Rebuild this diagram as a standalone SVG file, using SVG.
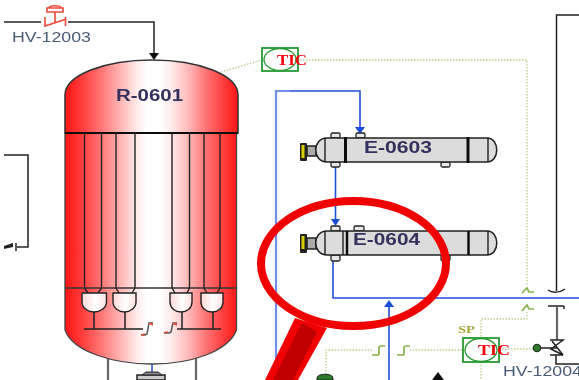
<svg xmlns="http://www.w3.org/2000/svg" width="579" height="380" viewBox="0 0 579 380">
<style>
text{font-family:"Liberation Sans",Arial,sans-serif}
.lbl{font-size:16px;font-weight:bold;fill:#33305c}
.tag{font-size:14px;fill:#4a5c78}
.tic{font-family:"Liberation Serif",serif;font-size:14.500px;font-weight:bold;fill:#f5000a}
.k{fill:none;stroke:#222;stroke-width:1.500}
.gy{fill:none;stroke:#666;stroke-width:2.200}
.b{fill:none;stroke:#1f4fd8;stroke-width:1.600}
.pb{fill:none;stroke:#6f8fe8;stroke-width:2.200}
.g{fill:none;stroke:#b9d08c;stroke-width:1.300;stroke-dasharray:1.500 1.500}
.gb{fill:none;stroke:#86b44a;stroke-width:1.700}
.r{fill:none;stroke:#ee4a38;stroke-width:1.600}
.sig{fill:none;stroke:#555;stroke-width:1.500}
.tube{fill:none;stroke:#222;stroke-width:1.400}
.cup{fill:url(#c);stroke:#222;stroke-width:1.400}
.bx{fill:#fff;stroke:#259a30;stroke-width:1.800}
.sh{fill:#dcdcdc;stroke:#222;stroke-width:1.500}
.noz{fill:#e8e8e8;stroke:#222;stroke-width:1.300}
</style>
<defs>
<linearGradient id="v" gradientUnits="userSpaceOnUse" x1="65" y1="0" x2="238" y2="0"><stop offset="0" stop-color="#ff1414"/><stop offset=".1" stop-color="#ff3c3c"/><stop offset=".2" stop-color="#ff7070"/><stop offset=".32" stop-color="#ffb4b4"/><stop offset=".41" stop-color="#ffe8e8"/><stop offset=".47" stop-color="#fff"/><stop offset=".55" stop-color="#fff"/><stop offset=".62" stop-color="#ffe8e8"/><stop offset=".72" stop-color="#ffb4b4"/><stop offset=".82" stop-color="#ff7070"/><stop offset=".92" stop-color="#ff3c3c"/><stop offset="1" stop-color="#ff1414"/></linearGradient>
<linearGradient id="c"><stop offset="0" stop-color="#ffd8d8"/><stop offset=".55" stop-color="#fff"/><stop offset="1" stop-color="#ffe0e0"/></linearGradient>
<filter id="soft" x="0" y="0" width="100%" height="100%"><feGaussianBlur stdDeviation="0.35"/></filter>
</defs>
<g filter="url(#soft)">
<g id="connectors">
<path class="k" d="M4 22H41M68 22H154V54"/>
<path d="M149 53h10l-5 7z" fill="#111"/>
<path class="k" d="M4 155H28V247H17M16 243V251"/>
<path d="M4 246L13 243V247L4 249Z" fill="#222"/>
<path class="g" d="M221 72L262 60M300 60H527V285M527 312V319H481V338M481 362V380"/>
<path class="pb" d="M276 380V91H290"/>
<path class="b" d="M290 91H360V127"/>
<path d="M355 127h10l-5 7z" fill="#1f4fd8"/>
<path class="b" d="M335.500 167V220"/>
<path d="M331 219h9l-4.500 7z" fill="#1f4fd8"/>
<path class="b" d="M333 260V298H579"/>
<path class="b" d="M389 380V305"/>
<path d="M384 307h10l-5-7z" fill="#1f4fd8"/>
<path class="k" d="M579 15H556.500V291"/>
<path class="k" d="M548 290C552 293 560 293 565 289"/>
<path class="k" d="M548 306H564M564 306V309"/>
<path class="gy" d="M557 306V340"/>
<path class="g" d="M462 350H410M372 350H326V375M499 349H533"/>
<path class="k" d="M541 348H557M556 355V364H579"/>
<path class="gy" d="M108 380V338M196 380V338"/>
<path d="M102.500 339h11l-5.500-7z" fill="#111"/><path d="M190.500 339h11l-5.500-7z" fill="#111"/>
<path d="M152 363V372" stroke="#1f4fd8" stroke-width="1.500"/>
<path class="gb" d="M522 293L527 288L529 292H534M522 311L527 305L529 309H534"/>
<path class="gb" d="M372 355H378Q379 355 379 353V348Q379 346 381 346H385M397 355H403Q404 355 404 353V348Q404 346 406 346H410"/>
</g>
<g id="R-0601">
<path d="M65 133V95C65 75 105 60 152 60S238 75 238 95V133Z" fill="url(#v)" stroke="#333" stroke-width="1.500"/>
<path d="M65 133H236.500V330C228 352 190 364 152 364S73 352 65 330Z" fill="url(#v)" stroke="#444" stroke-width="1.300"/>
<path d="M65 133H238" stroke="#111" stroke-width="1.800"/>
<path class="tube" d="M84.500 133V288M101.500 133V288M116 133V288M135 133V288M172 133V288M189.500 133V288M204 133V288M220 133V288"/>
<path d="M65 288H236" stroke="#333" stroke-width="1.300"/>
<path class="tube" d="M84.500 288L88 293M101.500 288L98 293M116 288L119 293M135 288L132 293M172 288L175 293M189.500 288L187 293M204 288L207 293M220 288L217 293"/>
<path class="cup" d="M82 293H106.500V302C106.500 308 100 312 94 312S82 308 82 302Z"/>
<path class="cup" d="M113 293H136V302C136 308 130 312 124.500 312S113 308 113 302Z"/>
<path class="cup" d="M170 293H192V302C192 308 187 312 181 312S170 308 170 302Z"/>
<path class="cup" d="M201 293H223V302C223 308 218 312 212 312S201 308 201 302Z"/>
<path class="k" d="M94 312V329M125 312V329M182 312V329M213 312V329M84 329H143M177 329H221"/>
<path class="sig" d="M141 335H145L147 334L149 323L153 323M164 333H169L171 332L173 323L177 323"/>
<path class="r" stroke-width="1" d="M149 323L153 325M173 323L177 325M141 335L145 334M164 333L168 332"/>
<text class="lbl" x="116" y="101" textLength="67" lengthAdjust="spacingAndGlyphs">R-0601</text>
</g>
<g id="HV-12003">
<path class="r" d="M45 17V27M65.500 17V26M45 26L65 19.500M55 22V12M47 8H63V12H47Z M49 8C49 5 61 5 61 8"/>
<text class="tag" x="12" y="42" textLength="79" lengthAdjust="spacingAndGlyphs">HV-12003</text>
</g>
<g id="E-0603">
<rect x="331" y="133" width="9" height="5" rx="1.500" class="noz"/><rect x="356" y="133" width="9" height="5" rx="1.500" class="noz"/>
<rect x="331" y="162" width="9" height="5" rx="1.500" class="noz"/><rect x="441" y="162" width="9" height="5" rx="1.500" class="noz"/>
<rect x="300" y="143" width="7" height="18" fill="#222" rx="1"/><rect x="301.500" y="145" width="3" height="13" fill="#d8d000"/>
<path d="M307 146H316V156H307Z" fill="#aaa" stroke="#222" stroke-width="1.500"/>
<path class="sh" d="M327 138H487C500 138 500 162 487 162H327C312 162 312 138 327 138Z"/>
<path d="M325 138V162M488 138V162" stroke="#111" stroke-width="1.300" fill="none"/>
<path d="M345.500 137V163M468 137V163" stroke="#111" stroke-width="3"/>
<text class="lbl" x="364" y="153" textLength="68" lengthAdjust="spacingAndGlyphs">E-0603</text>
</g>
<g id="E-0604">
<rect x="331" y="226" width="9" height="5" rx="1.500" class="noz"/><rect x="354" y="226" width="10" height="5" rx="1.500" class="noz"/>
<rect x="331" y="255" width="9" height="6" rx="1.500" class="noz"/><rect x="441" y="255" width="9" height="6" rx="1.500" class="noz"/>
<rect x="300" y="234" width="7" height="19" fill="#222" rx="1"/><rect x="301.500" y="236" width="3" height="13" fill="#d8d000"/>
<path d="M307 238H316V249H307Z" fill="#aaa" stroke="#222" stroke-width="1.500"/>
<path class="sh" d="M327 231H487C500 231 500 255 487 255H327C312 255 312 231 327 231Z"/>
<path d="M325 231V255M343 231V255M488 231V255" stroke="#111" stroke-width="1.300" fill="none"/>
<path d="M347 231V255M468.500 231V255" stroke="#111" stroke-width="2.500"/>
<text class="lbl" x="353" y="245" textLength="67" lengthAdjust="spacingAndGlyphs">E-0604</text>
</g>
<g id="TIC-1">
<rect x="262" y="48" width="36" height="23" class="bx"/><ellipse cx="280" cy="59.500" rx="16" ry="11" fill="#fff" stroke="#259a30" stroke-width="1.300"/>
<text class="tic" x="277" y="65" textLength="30" lengthAdjust="spacingAndGlyphs">TIC</text>
</g>
<g id="TIC-2">
<rect x="463" y="338" width="36" height="24" class="bx"/><ellipse cx="481" cy="350" rx="16" ry="11.500" fill="#fff" stroke="#259a30" stroke-width="1.300"/>
<text class="tic" x="478" y="355" textLength="32" lengthAdjust="spacingAndGlyphs">TIC</text>
<text x="458" y="333" font-size="11" textLength="17" lengthAdjust="spacingAndGlyphs" style="font-family:'Liberation Serif',serif" font-weight="bold" fill="#a8a83a">SP</text>
</g>
<g id="HV-12004">
<circle cx="537" cy="348" r="3.800" fill="#2a7a2a" stroke="#222"/>
<path class="k" d="M550 340H563L551 349L563 355H550"/>
<path class="k" d="M552 341L563 355"/>
<text class="tag" x="503" y="376" textLength="79" lengthAdjust="spacingAndGlyphs">HV-12004</text>
</g>
<g id="bottom">
<path d="M137 375H165V380H137Z" fill="#ccc" stroke="#222" stroke-width="1.500"/><path d="M142 375L146 372H158L162 375Z" fill="#888" stroke="#222"/>
<path d="M317 380V378C317 373 333 373 333 378V380Z" fill="#2a7a2a" stroke="#222"/>
<path d="M432 380L438 372L444 380Z" fill="#111"/>
</g>
<g id="magnifier">
<path d="M295 318L265 380H298L327 328Z" fill="#f00000"/>
<path d="M302 323L273 380H293L317 332Z" fill="#c00000"/>
<ellipse cx="353.500" cy="263.500" rx="92.500" ry="62.500" fill="none" stroke="#f00000" stroke-width="8"/>
</g>
</g>
</svg>
